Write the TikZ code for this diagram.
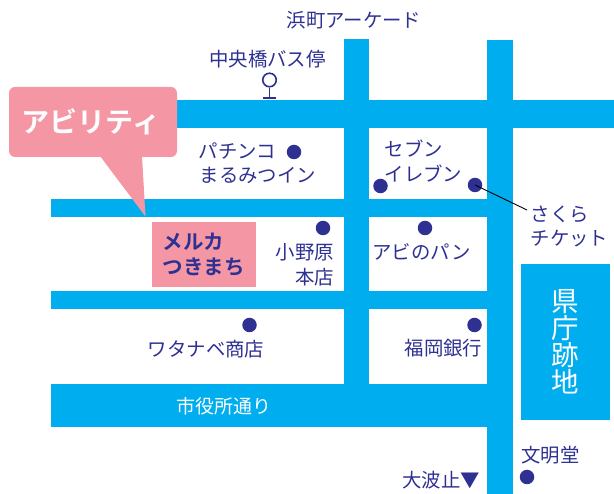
\documentclass[tikz,border=0pt]{standalone}
\usepackage{fontspec}
\setmainfont{Noto Sans CJK JP}
\newfontfamily\jpbold{Noto Sans CJK JP Bold}
\definecolor{road}{HTML}{00AEEF}
\definecolor{ink}{HTML}{2E3192}
\definecolor{rose}{HTML}{F596A4}
\tikzset{
  roadfill/.style={fill=road,draw=none},
  lab/.style={text=ink,font=\fontsize{19.4}{25}\selectfont,inner sep=0pt,align=center},
  lableft/.style={lab,anchor=west,align=left},
  labwhite/.style={inner sep=0pt,text=white,font=\fontsize{19}{25}\selectfont,align=center},
  spot/.style={circle,fill=ink,draw=none,minimum size=14.5pt,inner sep=0pt},
}
\begin{document}
\begin{tikzpicture}[x=1pt,y=-1pt]
\useasboundingbox (0,0) rectangle (614,494);
% roads
\fill[roadfill] (100,100) rectangle (614,128);
\fill[roadfill] (51,199.5) rectangle (513,217.5);
\fill[roadfill] (51,291.5) rectangle (513,309.5);
\fill[roadfill] (51,384) rectangle (513,427.5);
\fill[roadfill] (344,39.5) rectangle (369,427);
\fill[roadfill] (487,40) rectangle (513,494);
\node[roadfill,minimum width=89pt,minimum height=156pt,inner sep=0pt,text=white,anchor=north west,
      font=\fontsize{27.5}{27}\selectfont,align=center] (pref) at (521,264) {県\\庁\\跡\\地};
% callout
\fill[rose,rounded corners=6pt] (9,87) rectangle (177,157);
\fill[rose] (100,156) -- (145.5,216.5) -- (142,156) -- cycle;
\node[inner sep=0pt,text=white,font=\jpbold\fontsize{28}{28}\selectfont] (ability) at (91,122) {アビリティ};
% shop
\node[fill=rose,minimum width=104pt,minimum height=65pt,inner sep=0pt,anchor=north west] (meruka) at (152,222) {};
\node[inner sep=0pt,anchor=west,text=ink,font=\jpbold\fontsize{20.5}{25}\selectfont,align=left] (merukatext) at (162.5,254.5) {メルカ\\つきまち};
% labels
\node[lab] (hama) at (354,20) {浜町アーケード};
\node[lab] (bus) at (267.5,59) {中央橋バス停};
\node[lableft] (pachi) at (198.5,151) {パチンコ};
\node[lableft] (maru) at (199.5,175) {まるみつイン};
\node[lableft] (seven) at (384.5,149) {セブン};
\node[lableft] (eleven) at (384.5,174) {イレブン};
\node[lableft] (saku) at (530.5,214) {さくら};
\node[lableft] (chi) at (530.5,239) {チケット};
\node[lab,anchor=east] (ono) at (334,252) {小野原};
\node[lab,anchor=east] (hon) at (334,277) {本店};
\node[lab] (abi) at (421.5,252) {アビのパン};
\node[lab] (wata) at (206,349) {ワタナベ商店};
\node[lab,anchor=east] (fuku) at (482.5,348) {福岡銀行};
\node[labwhite] (shi) at (223.5,406) {市役所通り};
\node[lab,anchor=east] (ohato) at (480,480) {大波止▼};
\node[lab] (bun) at (550.5,455) {文明堂};
% spots
\node[spot] (s1) at (294,152) {};
\node[spot] (s2) at (380.5,186) {};
\node[spot] (s3) at (475,185) {};
\node[spot] (s4) at (323,228) {};
\node[spot] (s5) at (425,228) {};
\node[spot] (s6) at (249.5,325) {};
\node[spot] (s7) at (474.5,325) {};
\node[spot] (s8) at (527,477) {};
% leader
\coordinate (leadend) at (527,210);
\draw[black,line width=0.9pt] (s3.center) -- (leadend);
% bus stop
\node[circle,draw=ink,fill=white,line width=1.6pt,minimum size=13.5pt,inner sep=0pt] (stop) at (269.5,80) {};
\coordinate (base) at (269.5,98);
\draw[ink,line width=1.6pt] (stop.south) -- (base);
\draw[ink,line width=1.6pt] ([xshift=-6.5pt]base) -- ([xshift=6.5pt]base);
\end{tikzpicture}
\end{document}
